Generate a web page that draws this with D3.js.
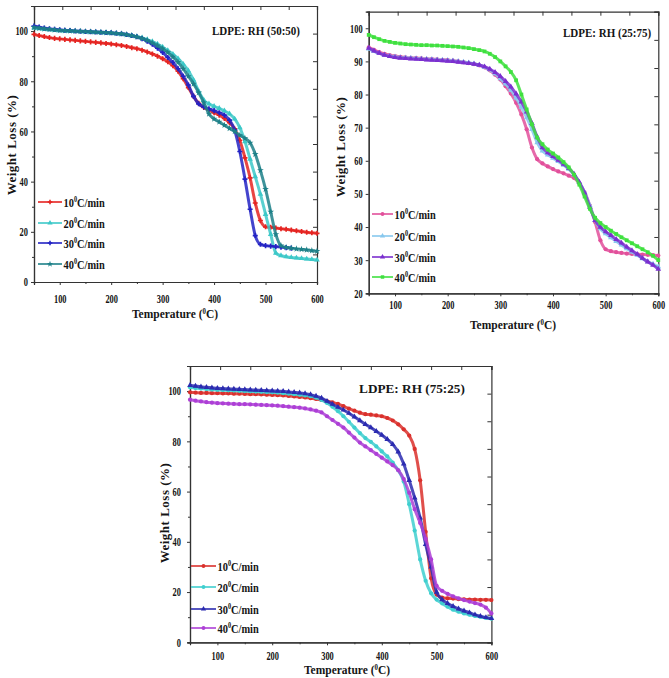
<!DOCTYPE html>
<html>
<head>
<meta charset="utf-8">
<script src="https://cdn.jsdelivr.net/npm/d3@7"></script>
<style>
  body { margin: 0; background: #fff; }
  svg text { font-family: 'Liberation Serif', 'Times New Roman', serif; font-weight: bold; fill: #151515; }
</style>
</head>
<body>
<svg id="chart" width="669" height="678"></svg>
<script>
// temperature grid (deg C), shared by all curves
var temps = [50, 60, 70, 80, 90, 100, 110, 120, 130, 140,
  150, 160, 170, 180, 190, 200, 210, 220, 230, 240,
  250, 260, 270, 280, 290, 300, 310, 320, 330, 340,
  350, 360, 370, 380, 390, 400, 410, 420, 430, 440,
  450, 460, 470, 480, 490, 500, 510, 520, 530, 540,
  550, 560, 570, 580, 590, 600];

var rates = ['10', '20', '30', '40'];
var xTicks = [100, 200, 300, 400, 500, 600];
var xMinor = [150, 250, 350, 450, 550];
var yTicks100 = [0, 20, 40, 60, 80, 100];
var yMinor100 = [10, 30, 50, 70, 90];
var yTicks2575 = [20, 30, 40, 50, 60, 70, 80, 90, 100];

// LDPE:RH 50:50
var rh50_10 = [98.7, 98.2, 97.8, 97.4, 97.1, 96.9, 96.7, 96.5, 96.3, 96.1,
  95.9, 95.7, 95.5, 95.3, 95.1, 94.9, 94.6, 94.3, 93.9, 93.4,
  93.0, 92.4, 91.7, 90.9, 90.0, 89.0, 87.8, 86.2, 84.0, 81.0,
  77.5, 74.0, 71.2, 69.6, 68.5, 67.5, 66.5, 65.2, 63.5, 61.0,
  56.5, 49.5, 41.5, 31.5, 24.5, 22.0, 21.8, 21.5, 21.2, 21.0,
  20.7, 20.4, 20.1, 19.8, 19.6, 19.4];
var rh50_20 = [101.3, 101.0, 100.8, 100.6, 100.4, 100.2, 100.1, 100.0, 99.9, 99.8,
  99.7, 99.6, 99.5, 99.4, 99.3, 99.2, 99.0, 98.8, 98.5, 98.2,
  97.8, 97.3, 96.6, 95.8, 94.8, 93.6, 92.3, 90.8, 89.0, 86.8,
  84.2, 80.5, 76.0, 72.5, 71.0, 70.0, 69.2, 68.2, 67.0, 65.0,
  61.5, 56.0, 49.0, 42.0, 35.0, 27.0, 19.0, 11.5, 10.5, 10.1,
  9.8, 9.6, 9.4, 9.2, 9.0, 8.8];
var rh50_30 = [102.0, 101.6, 101.2, 100.9, 100.7, 100.5, 100.3, 100.2, 100.0, 99.9,
  99.8, 99.7, 99.6, 99.5, 99.4, 99.3, 99.1, 98.9, 98.6, 98.2,
  97.7, 97.0, 96.0, 94.8, 93.2, 91.5, 89.5, 87.5, 85.0, 82.0,
  78.5, 74.0, 71.0, 69.8, 69.0, 68.3, 67.5, 66.5, 64.5, 60.5,
  52.0, 41.0, 29.0, 18.5, 15.0, 14.5, 14.3, 14.1, 13.9, 13.7,
  13.5];
var rh50_40 = [101.5, 101.2, 100.9, 100.7, 100.5, 100.3, 100.2, 100.1, 100.0, 99.9,
  99.8, 99.7, 99.6, 99.5, 99.4, 99.3, 99.1, 98.9, 98.6, 98.2,
  97.7, 97.1, 96.3, 95.3, 94.2, 93.0, 91.5, 89.7, 87.6, 85.0,
  82.0, 79.0, 75.5, 71.5, 67.0, 65.0, 63.8, 62.5, 61.2, 60.0,
  58.5, 57.3, 55.5, 51.0, 44.5, 37.0, 28.0, 19.0, 14.5, 13.8,
  13.5, 13.2, 13.0, 12.8, 12.5, 12.3];

// LDPE:RH 25:75
var rh25_10 = [94.2, 93.5, 92.8, 92.3, 91.9, 91.6, 91.4, 91.2, 91.1, 91.0,
  90.9, 90.8, 90.7, 90.6, 90.5, 90.4, 90.2, 90.0, 89.8, 89.5,
  89.2, 88.8, 88.2, 87.3, 86.0, 84.5, 82.5, 80.3, 77.5, 74.0,
  69.5, 64.0, 60.5, 59.2, 58.3, 57.5, 56.8, 56.2, 55.5, 54.8,
  53.2, 50.5, 46.5, 41.5, 36.0, 33.3, 32.7, 32.4, 32.2, 32.0,
  31.9, 31.8, 31.7, 31.6, 31.5, 31.4];
var rh25_20 = [93.8, 93.0, 92.4, 91.9, 91.6, 91.4, 91.2, 91.1, 91.0, 90.9,
  90.8, 90.7, 90.6, 90.5, 90.4, 90.3, 90.2, 90.0, 89.8, 89.6,
  89.3, 88.9, 88.3, 87.5, 86.3, 84.8, 83.2, 81.3, 79.0, 76.2,
  73.0, 69.5, 65.5, 63.0, 61.8, 60.8, 59.8, 58.7, 57.5, 55.8,
  53.5, 50.5, 46.5, 42.0, 39.5, 38.0, 36.8, 35.7, 34.6, 33.5,
  32.5, 31.5, 30.5, 29.6, 28.8, 28.0];
var rh25_30 = [94.0, 93.2, 92.5, 91.9, 91.5, 91.2, 91.0, 90.9, 90.8, 90.7,
  90.6, 90.5, 90.4, 90.3, 90.2, 90.1, 90.0, 89.8, 89.6, 89.4,
  89.2, 88.9, 88.4, 87.7, 86.7, 85.5, 84.0, 82.3, 80.2, 77.8,
  74.8, 71.3, 67.2, 64.0, 62.5, 61.3, 60.2, 59.0, 57.7, 56.0,
  53.5, 50.3, 46.0, 42.0, 40.0, 38.6, 37.5, 36.3, 35.2, 34.0,
  32.9, 31.8, 30.6, 29.5, 28.5, 27.3];
var rh25_40 = [98.0, 97.3, 96.7, 96.2, 95.9, 95.6, 95.4, 95.2, 95.1, 95.0,
  94.9, 94.9, 94.8, 94.8, 94.7, 94.6, 94.5, 94.4, 94.2, 94.0,
  93.7, 93.4, 93.0, 92.3, 91.3, 90.0, 88.5, 86.8, 84.3, 80.0,
  75.5, 71.0, 67.0, 65.0, 63.4, 62.2, 61.0, 59.6, 58.0, 55.8,
  52.8, 49.2, 45.5, 42.8, 41.2, 40.0, 38.9, 37.9, 36.9, 36.0,
  35.1, 34.2, 33.3, 32.4, 31.3, 30.0];

// LDPE:RH 75:25
var rh75_10 = [99.5, 99.4, 99.3, 99.3, 99.2, 99.2, 99.1, 99.1, 99.0, 99.0,
  98.9, 98.8, 98.8, 98.7, 98.6, 98.5, 98.4, 98.3, 98.1, 97.9,
  97.7, 97.5, 97.2, 96.9, 96.5, 96.0, 95.5, 94.9, 94.0, 93.0,
  92.2, 91.4, 90.8, 90.6, 90.3, 90.0, 89.3, 88.3, 86.8, 84.8,
  82.3, 77.0, 64.5, 44.0, 25.5, 19.0, 17.8, 17.5, 17.4, 17.2,
  17.1, 17.0, 17.0, 16.9, 16.9, 16.8];
var rh75_20 = [101.5, 101.2, 101.0, 100.8, 100.6, 100.5, 100.4, 100.3, 100.2, 100.1,
  100.0, 99.9, 99.8, 99.7, 99.6, 99.5, 99.4, 99.2, 99.0, 98.8,
  98.6, 98.3, 98.0, 97.4, 96.5, 95.3, 93.8, 92.0, 90.0, 87.8,
  85.5, 83.3, 81.3, 79.8, 78.0, 76.0, 74.0, 71.5, 68.5, 64.0,
  55.0, 44.5, 33.0, 24.5, 19.5, 17.0, 15.5, 14.2, 13.0, 12.2,
  11.5, 11.0, 10.5, 10.1, 9.7, 9.4];
var rh75_30 = [102.3, 102.0, 101.7, 101.5, 101.3, 101.1, 101.0, 100.9, 100.8, 100.7,
  100.6, 100.5, 100.4, 100.3, 100.2, 100.1, 100.0, 99.9, 99.7, 99.5,
  99.3, 99.0, 98.6, 98.0, 97.2, 96.0, 94.8, 93.6, 92.5, 91.2,
  89.8, 88.3, 86.8, 85.5, 84.0, 82.5, 80.8, 78.8, 75.8, 71.0,
  64.5, 57.5, 49.5, 39.0, 30.0, 20.0, 17.0, 15.5, 14.3, 13.3,
  12.5, 11.8, 11.0, 10.4, 9.9, 9.5];
var rh75_40 = [96.6, 96.2, 95.9, 95.6, 95.4, 95.2, 95.1, 95.0, 94.9, 94.8,
  94.8, 94.7, 94.6, 94.5, 94.4, 94.3, 94.2, 94.0, 93.8, 93.6,
  93.4, 93.1, 92.7, 92.2, 91.5, 90.0, 88.5, 87.0, 85.5, 83.5,
  81.5, 79.5, 78.0, 76.5, 75.0, 73.5, 72.0, 70.5, 68.5, 65.0,
  59.5, 53.0, 47.5, 41.2, 33.0, 22.5, 20.5, 19.3, 18.3, 17.5,
  16.8, 16.2, 15.6, 15.0, 13.8, 11.5];

var svg = d3.select('#chart');

var panels = [
  {
    title: 'LDPE: RH (50:50)', series: [rh50_10, rh50_20, rh50_30, rh50_40],
    colors: ['#e52421', '#3cc8c8', '#2323c4', '#1d8088'],
    symbols: [d3.symbolCross, d3.symbolTriangle, d3.symbolCross, d3.symbolStar],
    left: 34, right: 317, top: 6, bottom: 282,
    yDomain: [0, 110], yTicks: yTicks100, yMinor: yMinor100,
    tickFont: 12, xPad: 9, yPad: 3,
    titleX: 256, titleY: 35, titleSize: 12.5, titleSx: 0.88,
    legX: 38, legY: [202, 223, 243, 264], legLen: 24,
    yTitleX: 16, yTitleY: 145, xTitleX: 175, xTitleY: 318
  },
  {
    title: 'LDPE: RH (25:75)', series: [rh25_10, rh25_20, rh25_30, rh25_40],
    colors: ['#e2509b', '#88c8ee', '#7b2fcf', '#3fe03f'],
    symbols: [d3.symbolCircle, d3.symbolTriangle, d3.symbolTriangle, d3.symbolSquare],
    left: 368.7, right: 658.3, top: 11.7, bottom: 293.3,
    yDomain: [20, 105], yTicks: yTicks2575, yMinor: [],
    tickFont: 12, xPad: 4, yPad: 3,
    titleX: 607, titleY: 37, titleSize: 12, titleSx: 0.92,
    legX: 372, legY: [214, 236, 257, 277], legLen: 21,
    yTitleX: 345, yTitleY: 147, xTitleX: 513, xTitleY: 329
  },
  {
    title: 'LDPE: RH (75:25)', series: [rh75_10, rh75_20, rh75_30, rh75_40],
    colors: ['#da302c', '#3fcfcf', '#2b2bb0', '#ad3fd6'],
    symbols: [d3.symbolCircle, d3.symbolCircle, d3.symbolTriangle, d3.symbolCircle],
    left: 190, right: 491.4, top: 366, bottom: 642.3,
    yDomain: [0, 110], yTicks: yTicks100, yMinor: yMinor100,
    tickFont: 12, xPad: 6, yPad: 6,
    titleX: 412, titleY: 393, titleSize: 13.5, titleSx: 0.98,
    legX: 191, legY: [566, 587, 609, 628], legLen: 25,
    yTitleX: 169, yTitleY: 513, xTitleX: 347, xTitleY: 674
  }
];

// text squeezed horizontally like the source figure
function squeezed(parent, x, y, anchor, size, sx) {
  return parent.append('text')
    .attr('transform', 'translate(' + x + ',' + y + ') scale(' + sx + ',1)')
    .attr('text-anchor', anchor)
    .attr('font-size', size);
}

function withDegree(t, before, after) {
  t.append('tspan').text(before);
  t.append('tspan').attr('font-size', '0.6em').attr('dy', '-0.6em').text('0');
  t.append('tspan').attr('dy', '0.36em').text(after);
}

function drawPanel(p) {
  var x = d3.scaleLinear().domain([50, 600]).range([p.left, p.right]);
  var y = d3.scaleLinear().domain(p.yDomain).range([p.bottom, p.top]);
  var g = svg.append('g');
  var sx = 0.7;

  // mirrored (unlabelled) ticks on top/right split the range in 10 parts
  var topTicks = d3.range(11).map(function (i) { return 50 + i * 55; });
  var ySpan = p.yDomain[1] - p.yDomain[0];
  var rightTicks = d3.range(11).map(function (i) { return p.yDomain[0] + i * ySpan / 10; });

  g.append('g')
    .attr('transform', 'translate(0,' + p.top + ')')
    .call(d3.axisTop(x).tickValues(topTicks).tickSize(-4).tickFormat(''));
  g.append('g')
    .attr('transform', 'translate(' + p.right + ',0)')
    .call(d3.axisRight(y).tickValues(rightTicks).tickSize(-4).tickFormat(''));

  // bottom axis
  var xa = g.append('g')
    .attr('transform', 'translate(0,' + p.bottom + ')')
    .call(d3.axisBottom(x).tickValues(xTicks).tickSize(3).tickPadding(p.xPad).tickFormat(d3.format('d')));
  xa.selectAll('text').attr('font-size', p.tickFont).attr('transform', 'scale(' + sx + ',1)');
  g.append('g')
    .attr('transform', 'translate(0,' + p.bottom + ')')
    .call(d3.axisBottom(x).tickValues(xMinor).tickSize(2).tickFormat(''));

  // left axis
  var ya = g.append('g')
    .attr('transform', 'translate(' + p.left + ',0)')
    .call(d3.axisLeft(y).tickValues(p.yTicks).tickSize(3).tickPadding(p.yPad).tickFormat(d3.format('d')));
  ya.selectAll('text')
    .attr('font-size', p.tickFont)
    .attr('x', -(3 + p.yPad) / sx)
    .attr('transform', 'scale(' + sx + ',1)');
  g.append('g')
    .attr('transform', 'translate(' + p.left + ',0)')
    .call(d3.axisLeft(y).tickValues(p.yMinor).tickSize(2).tickFormat(''));

  g.selectAll('.domain').attr('stroke', '#333').attr('stroke-width', 1.2);
  g.selectAll('.tick line').attr('stroke', '#333');

  // curves
  p.series.forEach(function (vals, i) {
    var pts = vals.map(function (v, j) { return [temps[j], v]; });
    var line = d3.line()
      .x(function (d) { return x(d[0]); })
      .y(function (d) { return y(d[1]); })
      .curve(d3.curveMonotoneX);
    g.append('path')
      .datum(pts)
      .attr('d', line)
      .attr('fill', 'none')
      .attr('stroke', p.colors[i])
      .attr('stroke-width', 3)
      .attr('stroke-opacity', 0.85);
    g.append('g')
      .selectAll('path')
      .data(pts)
      .enter()
      .append('path')
      .attr('transform', function (d) { return 'translate(' + x(d[0]) + ',' + y(d[1]) + ')'; })
      .attr('d', d3.symbol().type(p.symbols[i]).size(14))
      .attr('fill', p.colors[i]);
  });

  // title
  squeezed(g, p.titleX, p.titleY, 'middle', p.titleSize, p.titleSx).text(p.title);

  // legend
  rates.forEach(function (r, i) {
    var ly = p.legY[i];
    g.append('line')
      .attr('x1', p.legX).attr('x2', p.legX + p.legLen)
      .attr('y1', ly).attr('y2', ly)
      .attr('stroke', p.colors[i]).attr('stroke-width', 1.6);
    g.append('path')
      .attr('transform', 'translate(' + (p.legX + p.legLen / 2) + ',' + ly + ')')
      .attr('d', d3.symbol().type(p.symbols[i]).size(12))
      .attr('fill', p.colors[i]);
    var t = squeezed(g, p.legX + p.legLen + 1.5, ly + 4.5, 'start', 13, 0.8);
    withDegree(t, r, 'C/min');
  });

  // axis titles
  g.append('text')
    .attr('transform', 'translate(' + p.yTitleX + ',' + p.yTitleY + ') rotate(-90)')
    .attr('text-anchor', 'middle')
    .attr('font-size', 13)
    .attr('letter-spacing', 0.5)
    .text('Weight Loss (%)');
  var xt = squeezed(g, p.xTitleX, p.xTitleY, 'middle', 12.5, 0.92);
  withDegree(xt, 'Temperature (', 'C)');
}

panels.forEach(drawPanel);
</script>
</body>
</html>
